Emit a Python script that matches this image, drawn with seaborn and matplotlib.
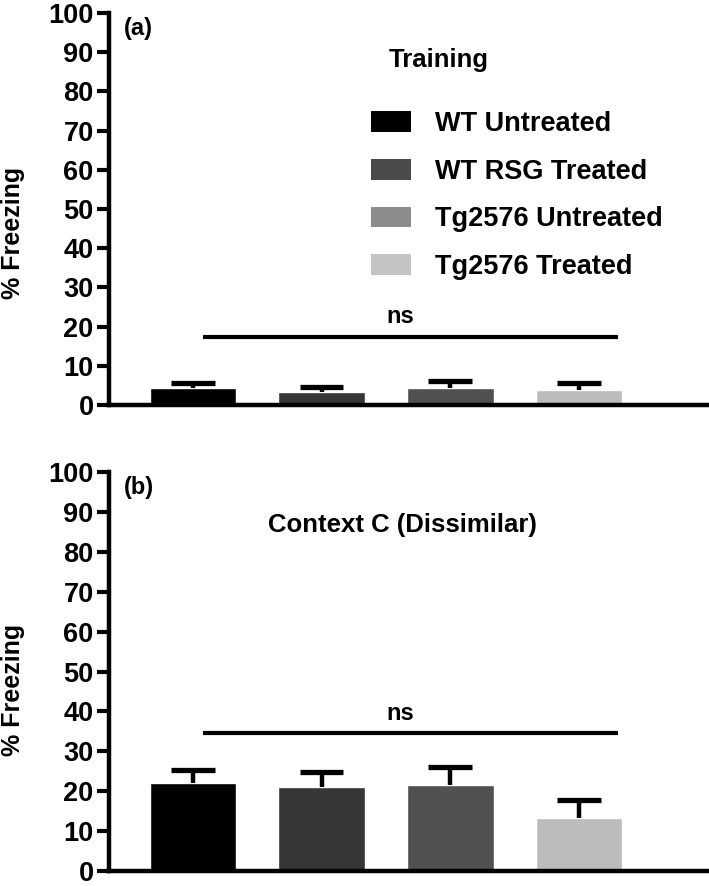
import matplotlib
matplotlib.use("Agg")
import matplotlib.pyplot as plt
from matplotlib.patches import Patch
import seaborn as sns
import pandas as pd

groups = ["WT Untreated", "WT RSG Treated", "Tg2576 Untreated", "Tg2576 Treated"]
training_mean = [4.3, 3.2, 4.3, 3.7]
training_sem = [1.2, 1.3, 1.8, 1.8]
context_mean = [22.1, 21.0, 21.5, 13.3]
context_sem = [3.3, 3.8, 4.5, 4.5]
bar_colors = ["#000000", "#363636", "#505050", "#bcbcbc"]
legend_colors = ["#000000", "#4a4a4a", "#8c8c8c", "#c4c4c4"]
yticks = [0, 10, 20, 30, 40, 50, 60, 70, 80, 90, 100]

sns.set_theme(style="white")
plt.rcParams["font.family"] = ["Liberation Sans", "DejaVu Sans"]
plt.rcParams["font.weight"] = "bold"
plt.rcParams["text.color"] = "black"
plt.rcParams["axes.labelcolor"] = "black"
plt.rcParams["ytick.color"] = "black"

fig = plt.figure(figsize=(7.09, 8.86), dpi=100)
ax1 = fig.add_axes([0.1537, 1 - 405 / 886, 0.845, 392 / 886])
ax2 = fig.add_axes([0.1537, 1 - 871 / 886, 0.845, 399 / 886])


def panel(ax, means, sems, title, title_x, title_y, letter, ns_y, label_y):
    df = pd.DataFrame({"group": groups, "value": means})
    sns.barplot(data=df, x="group", y="value", hue="group", palette=bar_colors,
                order=groups, hue_order=groups, width=0.67, legend=False,
                saturation=1, ax=ax, zorder=2)
    xs = list(range(len(groups)))
    tops = [m + s for m, s in zip(means, sems)]
    ax.vlines(xs, means, tops, color="black", lw=3.2, zorder=3)
    ax.hlines(tops, [x - 0.17 for x in xs], [x + 0.17 for x in xs],
              color="black", lw=3.8, zorder=3)
    ax.hlines(ns_y, 0.08, 3.3, color="black", lw=3)
    ax.annotate("ns", xy=(1.61, ns_y), xytext=(0, 6), textcoords="offset points",
                ha="center", va="bottom", fontsize=17, fontweight="bold",
                color="black")
    ax.set_ylim(0, 100)
    ax.set_xlim(-0.65, 4.0)
    ax.set_yticks(yticks)
    ax.set_yticklabels([str(t) for t in yticks], fontsize=19.5, fontweight="bold")
    ax.set_xticks([])
    ax.set_xlabel("")
    ax.set_ylabel("% Freezing", fontsize=18, fontweight="bold")
    ax.yaxis.set_label_coords(-0.14, label_y)
    for side in ["top", "right"]:
        ax.spines[side].set_visible(False)
    for side in ["left", "bottom"]:
        ax.spines[side].set_linewidth(3.2)
        ax.spines[side].set_color("black")
    ax.tick_params(axis="y", direction="out", length=9, width=3, left=True,
                   pad=2, colors="black")
    ax.text(title_x, title_y, title, transform=ax.transAxes, ha="center",
            va="center", fontsize=18.5, fontweight="bold")
    ax.text(0.025, 0.96, letter, transform=ax.transAxes, ha="left",
            va="center", fontsize=17, fontweight="bold")


panel(ax1, training_mean, training_sem, "Training", 0.55, 1 - (60 - 13) / 392,
      "(a)", 17.4, 0.44)
panel(ax2, context_mean, context_sem, "Context C (Dissimilar)", 0.49,
      1 - (525 - 472) / 399, "(b)", 34.6, 0.455)

handles = [Patch(facecolor=c, edgecolor="none") for c in legend_colors]
ax1.legend(handles, groups, loc="upper left",
           bbox_to_anchor=(371 / 709, 1 - 111 / 886),
           bbox_transform=fig.transFigure, borderaxespad=0, borderpad=0,
           frameon=False, handlelength=1.48, handleheight=0.8,
           labelspacing=0.8, handletextpad=0.9,
           prop={"weight": "bold", "size": 19.5})

fig.savefig("out.png", dpi=100)
